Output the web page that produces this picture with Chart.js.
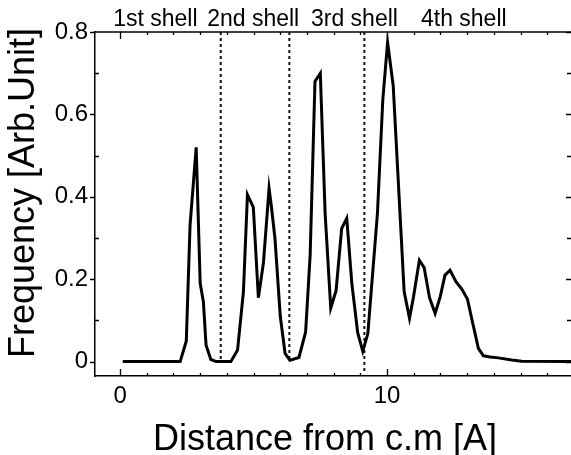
<!DOCTYPE html>
<html>
<head>
<meta charset="utf-8">
<script src="https://cdn.jsdelivr.net/npm/chart.js@4/dist/chart.umd.min.js"></script>
<style>
  html, body { margin: 0; padding: 0; background: #fff; }
  canvas { display: block; }
</style>
</head>
<body>
<canvas id="c" width="571" height="455"></canvas>
<script>
// ---- data ----
const distance = [0.1, 2.25, 2.48, 2.62, 2.85, 3.0, 3.12, 3.22, 3.4, 3.6, 4.15, 4.4, 4.62, 4.77, 4.99, 5.18, 5.37, 5.58, 5.66, 5.8, 6.0, 6.18, 6.36, 6.7, 6.95, 7.12, 7.3, 7.5, 7.68, 7.89, 8.09, 8.3, 8.49, 8.68, 8.9, 9.09, 9.28, 9.64, 9.84, 10.02, 10.23, 10.64, 10.84, 10.99, 11.21, 11.39, 11.59, 11.8, 11.99, 12.17, 12.36, 12.58, 12.8, 13.01, 13.21, 13.42, 13.61, 13.86, 14.17, 14.67, 15.04, 16.9];
const frequency = [0, 0, 0.05, 0.33, 0.52, 0.19, 0.145, 0.04, 0.005, 0, 0, 0.028, 0.17, 0.405, 0.375, 0.155, 0.24, 0.42, 0.38, 0.30, 0.11, 0.02, 0.003, 0.01, 0.072, 0.26, 0.68, 0.70, 0.36, 0.13, 0.172, 0.323, 0.348, 0.19, 0.07, 0.025, 0.068, 0.36, 0.635, 0.775, 0.67, 0.17, 0.105, 0.157, 0.246, 0.228, 0.155, 0.117, 0.157, 0.21, 0.222, 0.194, 0.176, 0.152, 0.093, 0.032, 0.014, 0.011, 0.009, 0.004, 0.001, 0];
const shellBoundaries = [3.77, 6.34, 9.15];
const shellLineTop = 0.8;
const shellLineBottoms = [0, 0, -0.028];
const shellLabels = ['1st shell', '2nd shell', '3rd shell', '4th shell'];
const xTickValues = [0, 10];
const xMinorTickValues = [1, 2, 3, 4, 5, 6, 7, 8, 9, 11, 12, 13, 14, 15, 16];
const yTickValues = [0, 0.2, 0.4, 0.6, 0.8];
const yMinorTickValues = [0.1, 0.3, 0.5, 0.7];
const xTitle = 'Distance from c.m [A]';
const yTitle = 'Frequency [Arb.Unit]';

// ---- layout / style (not data) ----
const FONT = '"Liberation Sans", Arial, Helvetica, sans-serif';
const shellLabelLeft = [-0.26, 3.26, 7.15, 11.27]; // x positions (data units) of label left edges

const datasets = [{
  data: distance.map((x, i) => ({ x: x, y: frequency[i] })),
  borderColor: '#000',
  borderWidth: 3,
  pointRadius: 0,
  tension: 0,
  borderJoinStyle: 'miter',
  fill: false
}];
shellBoundaries.forEach((b, i) => {
  datasets.push({
    data: [{ x: b, y: shellLineTop }, { x: b, y: shellLineBottoms[i] }],
    borderColor: '#111',
    borderWidth: 2,
    borderDash: [3, 3],
    pointRadius: 0,
    fill: false
  });
});

const decorations = {
  id: 'decorations',
  beforeDraw(chart) {
    const ctx = chart.ctx;
    ctx.save();
    ctx.fillStyle = '#fff';
    ctx.fillRect(0, 0, chart.width, chart.height);
    ctx.restore();
  },
  afterDraw(chart) {
    const ctx = chart.ctx;
    const xs = chart.scales.x, ys = chart.scales.y;
    const a = chart.chartArea;
    ctx.save();
    ctx.strokeStyle = '#000';
    ctx.lineWidth = 1.5;
    // top and right frame
    ctx.beginPath();
    ctx.moveTo(a.left, a.top); ctx.lineTo(a.right + 2, a.top);
    ctx.stroke();
    ctx.lineWidth = 1.3;
    // x ticks (bottom and top, inward)
    const tickX = (v, len) => {
      const px = Math.round(xs.getPixelForValue(v)) + 0.5;
      ctx.beginPath();
      ctx.moveTo(px, a.bottom); ctx.lineTo(px, a.bottom - len);
      ctx.moveTo(px, a.top); ctx.lineTo(px, a.top + len);
      ctx.stroke();
    };
    xTickValues.forEach(v => tickX(v, 7));
    xMinorTickValues.forEach(v => tickX(v, 3));
    // y ticks
    yTickValues.forEach(v => {
      const py = Math.round(ys.getPixelForValue(v)) + 0.5;
      ctx.beginPath();
      ctx.moveTo(a.left - 5, py); ctx.lineTo(a.left, py);
      ctx.moveTo(a.right, py); ctx.lineTo(a.right - 5, py);
      ctx.stroke();
    });
    yMinorTickValues.forEach(v => {
      const py = Math.round(ys.getPixelForValue(v)) + 0.5;
      ctx.beginPath();
      ctx.moveTo(a.left, py); ctx.lineTo(a.left + 4, py);
      ctx.moveTo(a.right, py); ctx.lineTo(a.right - 4, py);
      ctx.stroke();
    });
    // shell labels
    ctx.fillStyle = '#000';
    ctx.font = '23px ' + FONT;
    ctx.textAlign = 'left';
    ctx.textBaseline = 'alphabetic';
    shellLabels.forEach((t, i) => {
      ctx.fillText(t, xs.getPixelForValue(shellLabelLeft[i]), 26);
    });
    // axis titles
    ctx.font = '36px ' + FONT;
    ctx.textAlign = 'center';
    ctx.fillText(xTitle, 325, 450);
    ctx.save();
    ctx.translate(34, 193);
    ctx.rotate(-Math.PI / 2);
    ctx.fillText(yTitle, 0, 0);
    ctx.restore();
    ctx.restore();
  }
};

new Chart(document.getElementById('c'), {
  type: 'line',
  data: { datasets: datasets },
  plugins: [decorations],
  options: {
    responsive: false,
    devicePixelRatio: 1,
    animation: false,
    events: [],
    layout: { padding: { top: 32, left: 0, right: 0, bottom: 0 } },
    plugins: { legend: { display: false }, tooltip: { enabled: false }, title: { display: false } },
    scales: {
      x: {
        type: 'linear',
        min: -0.94,
        max: 16.89,
        afterFit(scale) { scale.height = 79; },
        afterBuildTicks(scale) { scale.ticks = xTickValues.map(v => ({ value: v })); },
        grid: { drawOnChartArea: false, drawTicks: false },
        border: { display: true, color: '#000', width: 1.5 },
        ticks: {
          color: '#000',
          font: { family: FONT, size: 24 },
          padding: 6,
          maxRotation: 0,
          callback: v => String(v)
        }
      },
      y: {
        type: 'linear',
        min: -0.035,
        max: 0.8,
        afterFit(scale) { scale.width = 95; },
        afterBuildTicks(scale) { scale.ticks = yTickValues.map(v => ({ value: v })); },
        grid: { drawOnChartArea: false, drawTicks: false },
        border: { display: true, color: '#000', width: 1.5 },
        ticks: {
          color: '#000',
          font: { family: FONT, size: 24 },
          padding: 7,
          callback: v => (v === 0 ? '0' : Number(v).toFixed(1))
        }
      }
    }
  }
});
</script>
</body>
</html>
